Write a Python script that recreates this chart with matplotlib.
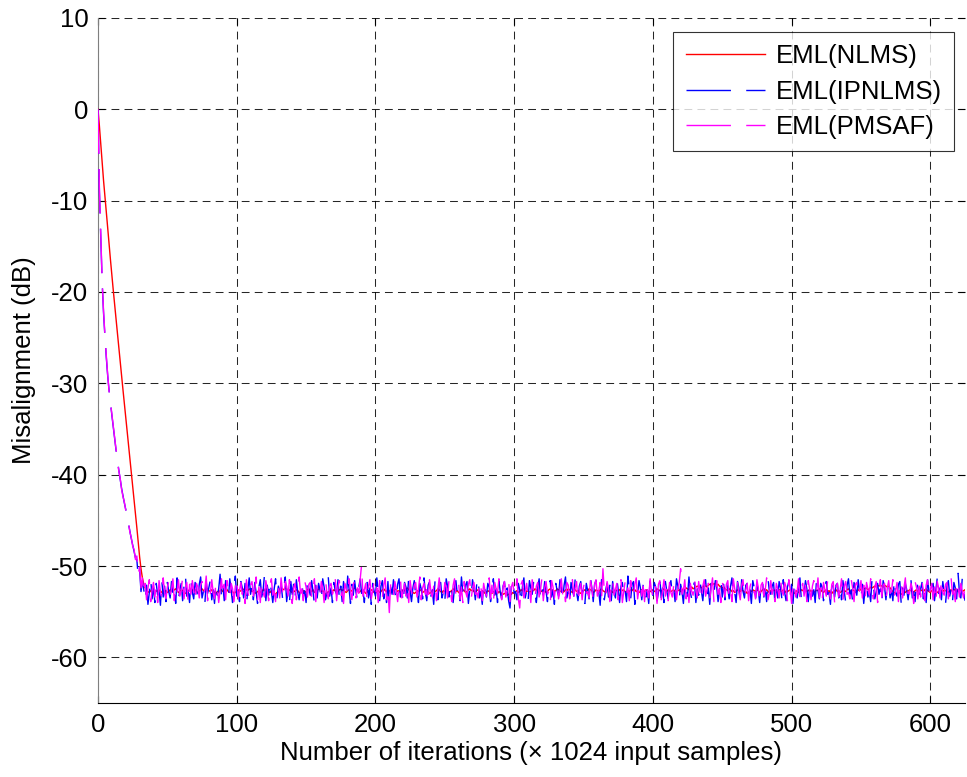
import numpy as np
import matplotlib
matplotlib.use("Agg")
import matplotlib.pyplot as plt

plt.rcParams["font.family"] = ["Liberation Sans", "DejaVu Sans"]
plt.rcParams["axes.unicode_minus"] = False

# Misalignment (dB) per iteration (each iteration = 1024 input samples)
nlms_db = [
    0.0, -1.8, -3.8, -5.8, -7.8, -9.5, -11.3, -13.0, -14.8, -16.5, -18.2, -19.8, -21.4, -23.0, -24.5, -26.0,
    -27.6, -29.2, -30.7, -32.2, -33.7, -35.2, -36.7, -38.2, -39.6, -41.1, -42.6, -44.2, -45.8, -47.4, -49.0,
    -50.3, -51.3,
    -52.0, -52.4, -52.6, -52.8, -52.9, -52.7, -52.8, -53.0, -52.9, -52.7, -52.8, -52.6, -52.7, -52.9, -53.0, -52.8, -52.7, -52.9, -52.8, -52.6,
    -52.7, -52.8, -52.6, -52.5, -52.7, -52.9, -52.8, -52.6, -52.7, -52.8, -53.0, -52.9, -52.7, -52.6, -52.8, -52.7, -52.5, -52.6, -52.8, -52.9,
    -52.8, -52.6, -52.5, -52.7, -52.6, -52.4, -52.5, -52.7, -52.8, -52.6, -52.7, -52.9, -53.0, -52.8, -52.9, -52.7, -52.6, -52.8, -52.7, -52.5,
    -52.6, -52.8, -52.9, -52.7, -52.8, -53.0, -52.9, -52.7, -52.6, -52.8, -52.7, -52.5, -52.6, -52.4, -52.6, -52.7, -52.5, -52.6, -52.8, -52.7,
    -52.9, -53.0, -52.8, -52.7, -52.9, -52.8, -52.6, -52.7, -52.5, -52.6, -52.8, -52.9, -52.7, -52.8, -53.0, -53.1, -52.9, -52.8, -52.6, -52.7,
    -52.5, -52.6, -52.4, -52.5, -52.7, -52.6, -52.8, -52.9, -52.7, -52.8, -52.6, -52.7, -52.9, -53.0, -52.8, -52.7, -52.9, -52.8, -52.6, -52.5,
    -52.7, -52.8, -52.6, -52.9, -52.8, -52.7, -52.5, -52.6, -52.8, -52.7, -52.9, -53.1, -53.0, -52.8, -52.9, -52.7, -52.8, -52.6, -52.7, -52.9,
    -52.8, -52.6, -52.5, -52.7, -52.6, -52.8, -52.9, -52.7, -52.6, -52.8, -52.7, -52.5, -52.4, -52.6, -52.7, -52.9, -52.8, -52.6, -52.7, -52.8,
    -53.0, -52.9, -52.7, -52.8, -52.6, -52.7, -52.9, -53.0, -52.8, -52.7, -52.9, -52.8, -52.6, -52.5, -52.7, -52.8, -52.6, -52.7, -52.9, -52.8,
    -52.7, -52.5, -52.6, -52.8, -52.7, -52.9, -52.8, -52.6, -52.7, -52.5, -52.4, -52.6, -52.8, -52.7, -52.9, -53.0, -52.9, -52.7, -52.8, -52.6,
    -52.7, -52.9, -52.8, -52.6, -52.7, -52.8, -53.0, -52.9, -52.7, -52.6, -52.8, -52.7, -52.5, -52.6, -52.8, -52.9, -52.7, -52.8, -52.6, -52.7,
    -52.9, -52.8, -52.7, -52.5, -52.6, -52.8, -52.7, -52.9, -53.0, -52.8, -52.6, -52.7, -52.9, -52.8, -52.6, -52.5, -52.7, -52.6, -52.8, -52.9,
    -52.7, -52.6, -52.8, -52.9, -52.7, -52.8, -53.0, -52.9, -52.7, -52.8, -52.9, -53.0, -52.8, -52.9, -53.1, -53.0, -52.8, -52.9, -53.0, -53.1,
    -53.0, -53.1, -53.2, -53.1, -53.0, -53.1, -52.9, -53.0, -52.8, -52.7, -52.9, -52.8, -52.6, -52.7, -52.5, -52.6, -52.8, -52.7, -52.9, -52.8,
    -52.6, -52.7, -52.5, -52.6, -52.8, -52.9, -52.7, -52.8, -52.6, -52.7, -52.9, -52.8, -52.6, -52.5, -52.7, -52.6, -52.8, -52.7, -52.5, -52.6,
    -52.8, -52.7, -52.9, -52.8, -52.6, -52.7, -52.5, -52.6, -52.8, -52.9, -52.7, -52.6, -52.8, -52.7, -52.9, -53.0, -52.8, -52.7, -52.6, -52.8,
    -52.7, -52.5, -52.6, -52.7, -52.9, -52.8, -52.6, -52.7, -52.8, -52.6, -52.5, -52.7, -52.8, -52.9, -52.7, -52.6, -52.8, -52.7, -52.9, -52.8,
    -52.6, -52.7, -52.8, -52.6, -52.5, -52.7, -52.6, -52.8, -52.9, -52.7, -52.8, -52.6, -52.7, -52.5, -52.6, -52.8, -52.7, -52.9, -52.8, -52.6,
    -52.7, -52.8, -52.6, -52.7, -52.9, -52.8, -52.7, -52.6, -52.8, -52.7, -52.5, -52.6, -52.7, -52.8, -52.6, -52.5, -52.7, -52.8, -52.6, -52.7,
    -52.8, -52.7, -52.6, -52.8, -52.9, -52.7, -52.6, -52.8, -52.7, -52.5, -52.6, -52.4, -52.5, -52.6, -52.4, -52.3, -52.5, -52.4, -52.3, -52.2,
    -52.3, -52.2, -52.4, -52.3, -52.1, -52.2, -52.3, -52.1, -52.0, -52.1, -51.9, -52.0, -51.9, -52.1, -52.0, -52.2, -52.3, -52.4, -52.3, -52.5,
    -52.6, -52.7, -52.5, -52.6, -52.8, -52.7, -52.9, -52.8, -52.6, -52.7, -52.8, -52.6, -52.7, -52.9, -52.8, -53.0, -52.9, -52.7, -52.8, -52.6,
    -52.7, -52.8, -52.6, -52.7, -52.9, -52.8, -52.6, -52.5, -52.7, -52.6, -52.8, -52.9, -52.7, -52.8, -52.6, -52.7, -52.9, -52.8, -52.6, -52.7,
    -52.8, -52.6, -52.7, -52.9, -52.8, -52.7, -52.6, -52.8, -52.9, -53.0, -52.8, -52.7, -52.9, -52.8, -52.6, -52.7, -52.5, -52.6, -52.8, -52.7,
    -52.6, -52.8, -52.7, -52.9, -52.8, -52.6, -52.7, -52.5, -52.6, -52.8, -52.9, -52.7, -52.6, -52.8, -52.7, -52.9, -53.0, -52.8, -52.7, -52.6,
    -52.8, -52.7, -52.9, -52.8, -52.6, -52.7, -52.8, -52.6, -52.5, -52.7, -52.8, -52.6, -52.7, -52.9, -52.8, -52.6, -52.7, -52.5, -52.6, -52.4,
    -52.5, -52.4, -52.6, -52.5, -52.3, -52.4, -52.3, -52.2, -52.3, -52.1, -52.2, -52.1, -52.2, -52.3, -52.1, -52.2, -52.3, -52.2, -52.4, -52.6,
    -52.8, -52.9, -53.0, -53.1, -53.0, -52.9, -53.1, -53.0, -52.8, -52.9, -52.7, -52.8, -52.6, -52.7, -52.8, -52.9, -52.7, -52.6, -52.8, -52.7,
    -52.6, -52.7, -52.8, -52.6, -52.5, -52.7, -52.8, -52.9, -52.7, -52.6, -52.8, -52.7, -52.9, -52.8, -52.6, -52.7, -52.8, -52.6, -52.7, -52.8,
    -52.9, -52.7, -52.6, -52.8, -52.7, -52.5, -52.6, -52.8, -52.7, -52.6, -52.8, -52.7, -52.6,
]

ipnlms_db = [
    0.0, -9.0, -14.0, -19.0, -22.3, -24.9, -27.2, -29.2, -30.8, -32.2, -33.5, -34.8, -36.1, -37.3, -38.4, -39.5,
    -40.5, -41.5, -42.3, -43.1, -43.8, -44.6, -45.4, -46.2, -47.0, -47.7, -48.4, -49.1, -49.3, -51.2, -50.4,
    -52.8, -51.6,
    -52.6, -53.8, -52.1, -54.2, -52.9, -51.4, -53.6, -52.3, -54.0, -51.9, -53.2, -52.7, -54.3, -51.6, -53.4, -52.2, -53.9, -51.8, -52.8, -53.5,
    -51.7, -53.1, -52.4, -54.1, -51.3, -53.7, -52.6, -51.9, -53.8, -52.2, -51.0, -53.3, -52.7, -54.0, -51.6, -52.9, -53.6, -51.8, -52.4, -53.9,
    -52.0, -51.2, -53.5, -52.8, -54.2, -51.7, -53.0, -52.3, -51.5, -53.7, -52.6, -54.1, -51.9, -53.2, -52.5, -50.9, -53.4, -52.1, -53.8, -51.6,
    -52.9, -53.6, -51.4, -52.7, -54.0, -52.2, -51.1, -53.3, -52.8, -53.9, -51.7, -52.4, -53.5, -51.9, -54.3, -52.6, -51.3, -53.1, -52.0, -53.7,
    -51.8, -52.9, -54.1, -52.3, -51.5, -53.4, -52.7, -51.0, -53.8, -52.1, -53.2, -51.6, -52.8, -54.0, -52.5, -51.4, -53.6, -52.2, -53.0, -51.9,
    -53.5, -52.4, -51.2, -53.9, -52.6, -54.1, -51.7, -53.1, -52.0, -53.6, -51.5, -52.9, -53.7, -52.3, -51.8, -53.4, -52.7, -54.0, -51.3, -52.5,
    -53.2, -51.6, -52.8, -54.2, -52.1, -53.5, -51.9, -52.6, -53.8, -51.4, -52.3, -53.7, -52.9, -51.2, -53.3, -52.4, -54.0, -51.8, -52.7, -53.1,
    -51.5, -53.6, -52.2, -53.9, -51.7, -52.8, -53.4, -51.1, -52.5, -54.1, -52.0, -53.2, -51.6, -52.9, -53.7, -52.3, -51.4, -53.0, -52.6, -54.0,
    -52.1, -51.8, -53.5, -52.4, -54.2, -51.9, -52.7, -53.3, -51.3, -52.8, -53.9, -52.2, -51.6, -53.6, -52.5, -54.0, -51.7, -54.3, -52.3, -53.1,
    -51.5, -52.9, -53.7, -52.0, -51.4, -53.4, -52.6, -54.1, -51.8, -52.3, -53.5, -51.2, -52.8, -53.9, -52.4, -51.6, -53.2, -52.7, -54.0, -51.9,
    -52.5, -53.6, -51.3, -52.9, -53.8, -52.1, -51.7, -53.3, -52.6, -54.2, -51.5, -52.4, -53.7, -52.0, -51.8, -53.5, -52.8, -53.9, -51.4, -52.2,
    -53.4, -51.9, -52.7, -54.0, -52.3, -51.6, -53.1, -52.5, -53.8, -51.2, -52.9, -53.6, -52.1, -51.7, -54.1, -52.6, -53.3, -51.5, -52.4, -53.7,
    -52.0, -51.3, -53.5, -52.8, -54.2, -51.8, -52.6, -53.4, -51.9, -52.3, -53.9, -52.7, -51.4, -53.2, -52.5, -54.0, -51.6, -52.9, -53.6, -52.2,
    -51.7, -53.3, -52.4, -53.8, -54.6, -52.1, -51.5, -53.0, -52.8, -53.7, -51.9, -52.6, -54.1, -52.2, -51.3, -53.5, -52.7, -53.9, -51.6, -52.4,
    -53.1, -51.8, -52.9, -54.0, -52.3, -51.4, -53.6, -52.5, -53.2, -51.7, -52.8, -53.9, -52.0, -51.6, -53.4, -52.6, -54.2, -51.9, -52.7, -53.3,
    -51.5, -52.4, -53.7, -52.1, -51.2, -53.5, -52.8, -54.0, -51.8, -52.6, -53.3, -51.4, -52.9, -53.8, -52.2, -51.7, -53.1, -52.5, -54.1, -51.9,
    -52.7, -53.6, -51.3, -52.4, -53.9, -52.0, -51.6, -53.2, -52.8, -54.3, -51.5, -52.3, -53.7, -52.6, -51.9, -53.4, -52.1, -53.8, -51.7, -52.9,
    -53.5, -51.4, -52.6, -54.0, -52.2, -51.8, -53.3, -52.7, -53.9, -51.1, -52.5, -53.6, -52.0, -51.7, -54.2, -52.8, -53.1, -51.6, -52.4, -53.7,
    -52.1, -51.9, -53.4, -52.6, -54.1, -51.5, -52.8, -53.2, -51.8, -52.3, -53.8, -52.9, -51.3, -53.5, -52.4, -54.0, -51.7, -52.7, -53.6, -52.2,
    -51.6, -53.1, -52.5, -53.9, -51.4, -52.2, -53.7, -52.0, -52.8, -54.1, -51.9, -52.6, -53.3, -51.2, -52.9, -53.6, -52.3, -51.8, -54.0, -52.5,
    -53.2, -51.7, -52.8, -53.8, -52.1, -51.5, -53.5, -52.4, -54.2, -51.9, -52.7, -53.1, -51.6, -52.3, -53.9, -52.6, -51.4, -53.4, -52.0, -53.7,
    -51.8, -52.5, -53.6, -52.2, -51.3, -53.3, -52.9, -54.0, -51.7, -52.4, -53.8, -51.5, -52.8, -53.5, -52.1, -51.9, -53.2, -52.6, -54.1, -51.6,
    -52.3, -53.7, -51.9, -52.7, -54.0, -52.0, -51.6, -53.4, -52.5, -53.9, -51.4, -52.8, -53.1, -52.2, -51.8, -54.2, -52.6, -53.5, -51.7, -52.4,
    -53.6, -51.5, -52.9, -53.8, -52.3, -51.7, -53.2, -52.0, -54.1, -51.9, -52.6, -53.5, -52.4, -51.3, -53.7, -52.8, -53.0, -51.6, -52.5, -53.9,
    -52.2, -51.8, -53.3, -52.6, -54.0, -51.4, -52.7, -53.6, -51.9, -52.3, -53.8, -52.5, -51.7, -53.1, -52.9, -54.2, -51.5, -52.4, -53.4, -52.1,
    -51.9, -53.5, -52.3, -53.7, -51.6, -52.8, -54.0, -52.1, -51.4, -53.3, -52.6, -53.9, -51.8, -52.5, -53.2, -51.5, -52.9, -53.6, -52.0, -54.1,
    -52.4, -51.7, -53.4, -52.7, -53.9, -51.3, -52.2, -53.6, -52.8, -51.9, -53.1, -52.5, -54.0, -51.6, -52.3, -53.7, -52.1, -51.8, -53.5, -52.6,
    -53.8, -51.5, -52.9, -53.3, -52.0, -51.7, -54.1, -52.4, -53.2, -51.9, -52.6, -53.7, -52.2, -51.4, -53.5, -52.8, -53.9, -51.6, -52.3, -53.1,
    -52.5, -51.8, -53.6, -52.1, -54.0, -51.5, -52.7, -53.4, -52.3, -51.9, -53.8, -52.6, -51.3, -53.0, -52.4, -53.7, -51.7, -52.9, -54.1, -52.2,
    -51.6, -53.3, -52.5, -53.9, -51.8, -52.4, -53.6, -50.8, -52.9, -53.5, -51.4, -52.7, -53.8,
]

pmsaf_db = [
    0.0, -8.6, -13.8, -18.8, -22.1, -24.7, -27.0, -29.1, -30.9, -32.1, -33.4, -34.7, -36.0, -37.2, -38.5, -39.6,
    -40.4, -41.6, -42.4, -43.0, -43.9, -44.7, -45.3, -46.3, -46.9, -47.8, -48.2, -49.3, -48.9, -50.9, -50.1,
    -52.4, -51.3,
    -53.1, -51.9, -53.7, -52.4, -51.5, -53.9, -52.6, -51.8, -53.4, -52.1, -54.0, -51.6, -52.8, -53.5, -51.3, -52.9, -53.6, -52.3, -51.7, -53.2,
    -52.5, -51.4, -53.8, -52.2, -52.9, -51.5, -53.3, -52.7, -51.2, -53.6, -52.4, -51.8, -54.1, -52.0, -53.1, -51.6, -52.6, -53.9, -51.9, -52.3,
    -53.5, -52.1, -51.7, -53.2, -52.6, -51.1, -53.8, -52.4, -53.0, -51.5, -52.9, -53.6, -51.8, -52.3, -54.0, -52.7, -51.4, -53.3, -52.0, -53.7,
    -51.6, -52.8, -53.4, -51.9, -52.5, -53.9, -52.2, -51.3, -53.6, -52.7, -51.8, -53.1, -52.4, -54.1, -51.5, -52.9, -53.5, -52.1, -51.7, -53.3,
    -52.6, -51.2, -53.7, -52.3, -54.0, -51.8, -52.9, -53.4, -51.6, -52.5, -53.8, -52.0, -51.4, -53.2, -52.7, -53.9, -51.9, -52.4, -53.5, -51.3,
    -52.8, -53.6, -51.7, -52.2, -53.3, -51.5, -52.9, -54.1, -52.4, -51.9, -53.7, -52.6, -51.2, -53.0, -52.5, -53.8, -51.6, -52.3, -53.4, -52.0,
    -51.8, -53.5, -52.7, -51.4, -53.9, -52.1, -52.8, -53.3, -51.7, -52.4, -54.0, -51.5, -52.9, -53.6, -52.2, -51.9, -53.1, -52.6, -51.3, -53.8,
    -52.3, -51.6, -53.4, -52.8, -54.1, -51.9, -52.5, -53.2, -51.4, -52.7, -53.7, -52.0, -51.7, -53.5, -52.4, -53.0, -51.5, -49.9, -53.3, -52.6,
    -51.9, -53.8, -52.2, -51.5, -53.6, -52.7, -51.8, -53.1, -52.4, -54.0, -51.6, -52.9, -53.5, -52.1, -51.3, -53.7, -52.5, -55.1, -51.8, -52.8,
    -53.2, -51.7, -52.6, -53.9, -52.0, -51.4, -53.5, -52.8, -51.9, -53.3, -52.3, -54.0, -51.6, -52.7, -53.6, -52.1, -51.8, -53.4, -52.5, -51.2,
    -53.7, -52.4, -51.9, -53.1, -52.6, -54.1, -51.5, -52.8, -53.4, -52.2, -51.7, -53.8, -52.5, -51.3, -53.0, -52.9, -53.6, -51.8, -52.3, -53.5,
    -51.6, -52.7, -53.9, -52.1, -51.4, -53.2, -52.6, -51.9, -53.7, -52.3, -54.0, -51.7, -52.8, -53.4, -52.0, -51.5, -53.6, -52.5, -51.8, -53.1,
    -52.9, -53.5, -51.6, -52.2, -53.8, -51.9, -52.7, -53.3, -52.4, -51.3, -53.6, -52.1, -54.1, -51.8, -52.5, -53.0, -51.4, -52.8, -53.7, -52.3,
    -51.7, -53.4, -52.6, -51.5, -53.9, -52.3, -51.8, -53.2, -52.7, -51.4, -53.6, -54.6, -52.0, -51.6, -53.5, -52.8, -51.9, -53.3, -52.5, -54.0,
    -51.5, -52.9, -53.7, -52.2, -51.8, -53.4, -52.6, -51.3, -53.8, -52.4, -51.7, -53.1, -52.8, -54.1, -51.6, -52.3, -53.5, -52.0, -51.9, -53.6,
    -52.7, -51.4, -53.2, -52.5, -53.9, -51.8, -52.1, -53.6, -52.9, -51.5, -53.3, -52.4, -51.7, -54.0, -52.6, -51.9, -53.7, -52.3, -51.6, -53.0,
    -52.8, -53.5, -51.6, -52.4, -53.8, -52.0, -51.5, -53.3, -52.7, -51.8, -53.6, -50.3, -52.9, -53.4, -51.7, -52.5, -53.9, -52.1, -51.4, -53.2,
    -52.6, -51.9, -53.7, -52.3, -51.5, -54.0, -52.8, -51.7, -53.1, -52.4, -53.8, -51.6, -52.9, -53.4, -52.0, -51.3, -53.6, -52.5, -51.8, -53.3,
    -52.2, -53.9, -51.7, -52.6, -53.5, -51.4, -52.8, -53.2, -51.9, -52.4, -54.1, -52.0, -51.6, -53.7, -52.7, -51.5, -53.3, -52.3, -53.8, -51.8,
    -52.9, -53.4, -52.1, -51.6, -53.7, -52.5, -51.8, -50.3, -53.1, -52.7, -51.5, -53.6, -52.3, -54.0, -51.9, -52.8, -53.2, -51.4, -52.6, -53.5,
    -51.7, -52.9, -53.8, -52.2, -51.5, -53.3, -52.6, -51.9, -53.6, -52.4, -51.3, -53.9, -52.8, -51.6, -53.1, -52.5, -54.0, -51.8, -52.3, -53.4,
    -52.0, -51.6, -53.5, -52.7, -53.9, -51.4, -52.5, -53.2, -51.8, -52.9, -53.7, -52.1, -51.5, -53.4, -52.6, -51.9, -53.8, -52.3, -51.7, -53.0,
    -52.8, -53.6, -51.5, -52.4, -54.0, -52.1, -51.8, -53.3, -52.6, -51.3, -53.7, -52.9, -51.6, -53.1, -52.2, -53.9, -51.9, -52.5, -53.5, -51.4,
    -52.7, -53.2, -51.8, -52.3, -53.8, -51.5, -52.6, -54.1, -52.0, -51.7, -53.4, -52.8, -51.4, -53.6, -52.4, -51.9, -53.3, -52.1, -53.9, -51.6,
    -52.5, -53.7, -52.2, -51.6, -53.0, -52.8, -51.3, -53.5, -52.4, -53.9, -51.8, -52.6, -53.3, -51.5, -52.9, -53.6, -52.0, -51.7, -54.0, -52.3,
    -51.9, -53.4, -52.6, -51.4, -53.8, -52.2, -51.7, -53.1, -52.9, -53.6, -51.5, -52.4, -53.9, -52.0, -51.8, -53.3, -52.7, -51.6, -53.5, -52.1,
    -53.7, -51.8, -52.5, -53.2, -51.4, -52.9, -53.6, -52.3, -51.7, -54.0, -52.6, -51.5, -53.4, -52.1, -51.9, -53.8, -52.4, -51.6, -53.0, -52.8,
    -51.5, -53.3, -52.7, -51.8, -53.9, -52.0, -51.6, -53.5, -52.4, -51.3, -53.7, -52.8, -53.1, -51.9, -52.5, -54.1, -51.7, -52.3, -53.6, -52.2,
    -53.4, -51.6, -52.8, -53.8, -52.1, -51.5, -53.3, -52.6, -51.9, -53.7, -52.3, -54.0, -51.7, -52.4, -53.5, -51.4, -52.9, -53.2, -52.0, -51.8,
    -53.6, -52.5, -51.3, -53.1, -52.7, -53.9, -51.6, -52.2, -53.4, -51.9, -52.8, -53.5, -52.1,
]

series_labels = ["EML(NLMS)", "EML(IPNLMS)", "EML(PMSAF)"]
x_ticks = [0, 100, 200, 300, 400, 500, 600]
y_ticks = [-60, -50, -40, -30, -20, -10, 0, 10]

W, H = 967, 777
fig = plt.figure(figsize=(W / 100, H / 100), dpi=100)
ax = fig.add_axes([98 / W, 74 / H, (965 - 98) / W, (703 - 18) / H])

long_dash = (0, (32, 11))
styles = [
    dict(color="#ff0000", linestyle="-"),
    dict(color="#0000ff", linestyle=long_dash),
    dict(color="#ff00ff", linestyle=long_dash),
]
for vals, label, st in zip([nlms_db, ipnlms_db, pmsaf_db], series_labels, styles):
    ax.plot(np.arange(len(vals)), vals, lw=1.0, label=label, zorder=3, **st)

ax.set_xlim(0, 625)
ax.set_ylim(-65, 10)
ax.set_xticks(x_ticks)
ax.set_yticks(y_ticks)

fs = 18.5
ax.tick_params(direction="in", length=5, width=0.8, top=True, right=True,
               labelsize=fs, pad=7, colors="black")
ax.grid(True, color="black", linestyle=(0, (7.5, 5)), linewidth=0.75, alpha=0.85)
ax.set_axisbelow(True)

for side in ["top", "right"]:
    ax.spines[side].set_visible(False)
ax.spines["left"].set_color("#7f7f7f")
ax.spines["bottom"].set_color("black")
ax.spines["left"].set_linewidth(0.8)
ax.spines["bottom"].set_linewidth(0.8)

ax.set_xlabel("Number of iterations (× 1024 input samples)", fontsize=fs, labelpad=3)
ax.set_ylabel("Misalignment (dB)", fontsize=fs, labelpad=11)

leg = ax.legend(loc="upper right", fontsize=fs, frameon=True, fancybox=False,
                edgecolor="black", handlelength=3.1, handletextpad=0.4,
                borderpad=0.48, labelspacing=0.44, borderaxespad=0.0,
                bbox_to_anchor=((954 - 98) / (965 - 98), (703 - 32) / (703 - 18)))
leg.get_frame().set_linewidth(0.8)

fig.savefig("out.png", dpi=100, facecolor="white")
